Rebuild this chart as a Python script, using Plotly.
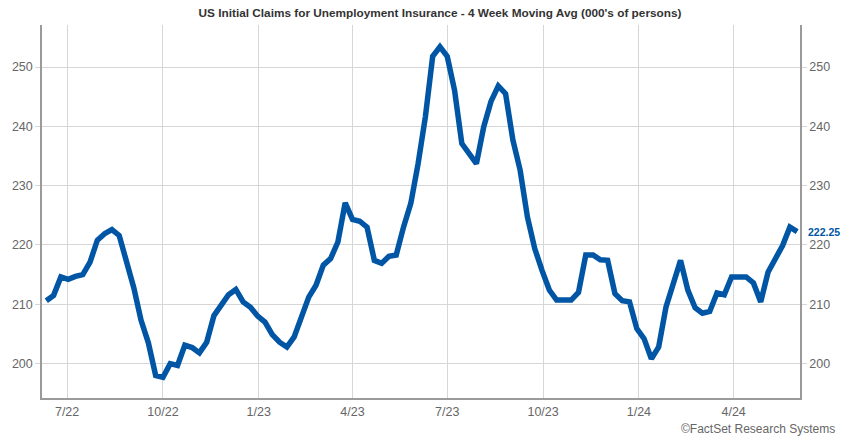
import pandas as pd
import plotly.graph_objects as go

# Weekly observations (week ending Saturday), 4-week moving average, thousands
week_ending = pd.date_range("2022-06-11", "2024-06-01", freq="7D")
claims_4wk = [
    210.6, 211.5, 214.6, 214.2, 214.7, 215.0, 217.1, 220.8, 221.9, 222.6,
    221.6, 217.1, 212.8, 207.3, 203.5, 198.0, 197.7, 200.0, 199.7, 203.1,
    202.7, 201.8, 203.6, 208.1, 209.8, 211.6, 212.5, 210.4, 209.5, 208.0,
    207.0, 204.9, 203.6, 202.8, 204.5, 207.9, 211.2, 213.2, 216.6, 217.7,
    220.5, 227.1, 224.3, 224.0, 223.0, 217.4, 216.9, 218.1, 218.3, 223.0,
    227.0, 233.7, 241.6, 251.8, 253.4, 251.8, 246.1, 237.1, 235.4, 233.7,
    239.9, 244.2, 246.8, 245.5, 237.7, 232.6, 224.7, 219.4, 215.7, 212.4,
    210.7, 210.7, 210.7, 212.0, 218.3, 218.3, 217.5, 217.4, 211.8, 210.6,
    210.4, 205.9, 204.2, 200.8, 202.8, 209.5, 213.5, 217.4, 212.4, 209.4,
    208.5, 208.8, 211.9, 211.6, 214.6, 214.6, 214.6, 213.6, 210.4, 215.4,
    217.7, 219.9, 223.0, 222.25,
]

# Quarter-start tick marks
tick_dates = pd.to_datetime([
    "2022-07-01", "2022-10-01", "2023-01-01", "2023-04-01",
    "2023-07-01", "2023-10-01", "2024-01-01", "2024-04-01",
])
tick_labels = ["7/22", "10/22", "1/23", "4/23", "7/23", "10/23", "1/24", "4/24"]
y_ticks = [200, 210, 220, 230, 240, 250]

LINE_BLUE = "#0056a4"
GRID = "#d6d6d6"
AXIS = "#9a9a9a"
TEXT = "#666666"
FONT = "Liberation Sans, Arial, sans-serif"

fig = go.Figure()
fig.add_trace(go.Scatter(
    x=week_ending, y=claims_4wk, mode="lines",
    line=dict(color=LINE_BLUE, width=5.5),
    showlegend=False, hoverinfo="x+y",
))
# Same series on the right-hand axis (invisible) so that axis renders its labels
fig.add_trace(go.Scatter(
    x=week_ending, y=claims_4wk, mode="lines", yaxis="y2",
    line=dict(color="rgba(0,0,0,0)", width=0),
    showlegend=False, hoverinfo="skip",
))

y_range = [194.2, 257.08]
axis_common = dict(
    range=y_range, tickvals=y_ticks, showgrid=True, gridcolor=GRID, gridwidth=1,
    showline=True, linecolor=AXIS, linewidth=1.5, zeroline=False,
    ticks="outside", ticklen=5, tickcolor=GRID,
    tickfont=dict(family=FONT, size=12.5, color=TEXT),
)

fig.update_layout(
    width=842, height=437,
    margin=dict(l=40, r=39.3, t=24.7, b=39.3),
    paper_bgcolor="white", plot_bgcolor="white",
    title=dict(
        text="US Initial Claims for Unemployment Insurance - 4 Week Moving Avg (000's of persons)",
        font=dict(family=FONT, size=11.8, color="#333333", weight="bold"),
        x=440 / 842, xanchor="center", xref="container",
        y=1 - 13 / 437, yanchor="middle", yref="container",
    ),
    xaxis=dict(
        type="date",
        range=["2022-06-06 21:00", "2024-06-03 17:00"],
        tickvals=tick_dates, ticktext=tick_labels,
        showgrid=True, gridcolor=GRID, gridwidth=1,
        showline=True, linecolor=AXIS, linewidth=1.5,
        ticks="outside", ticklen=1, tickcolor="rgba(0,0,0,0)",
        tickfont=dict(family=FONT, size=12.5, color=TEXT),
        zeroline=False,
    ),
    yaxis=dict(side="left", **axis_common),
    yaxis2=dict(side="right", overlaying="y", showgrid=False,
                **{k: v for k, v in axis_common.items() if k not in ("showgrid",)}),
)

# Latest value label at the end of the line
fig.add_annotation(
    x=week_ending[-1], y=claims_4wk[-1], text=f"{claims_4wk[-1]:.2f}",
    showarrow=False, xanchor="left", yanchor="middle", xshift=9,
    font=dict(family=FONT, size=10.5, color=LINE_BLUE, weight="bold"),
)

fig.add_annotation(
    x=1, y=0, xref="paper", yref="paper", text="©FactSet Research Systems",
    showarrow=False, xanchor="right", yanchor="middle", xshift=37, yshift=-31,
    font=dict(family=FONT, size=12, color=TEXT),
)

fig.write_html("out.html")
